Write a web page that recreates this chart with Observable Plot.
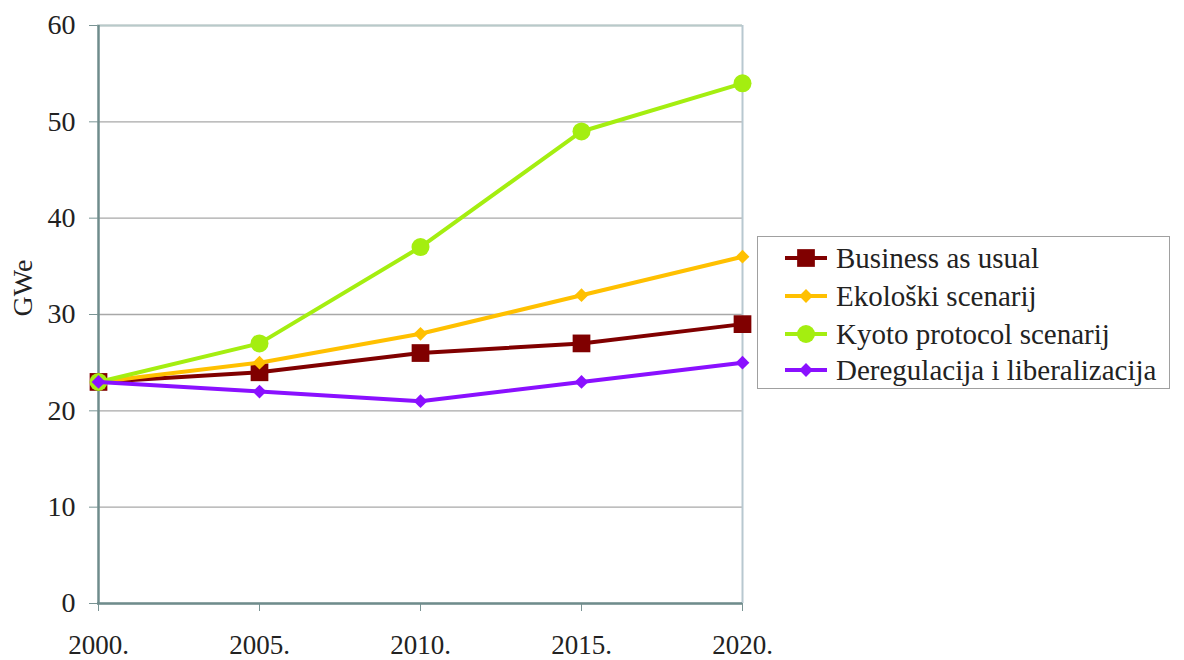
<!DOCTYPE html>
<html>
<head>
<meta charset="utf-8">
<script src="https://cdn.jsdelivr.net/npm/d3@7"></script>
<script src="https://cdn.jsdelivr.net/npm/@observablehq/plot@0.6"></script>
<style>
  html, body { margin: 0; padding: 0; background: #fff; }
  #wrap { position: relative; width: 1184px; height: 660px; }
  #legend {
    position: absolute; left: 757px; top: 236px; width: 413px; height: 153px;
    border: 1px solid #a0a0a0; box-sizing: border-box; background: #fff;
    font-family: "Liberation Serif", "Times New Roman", serif; font-size: 29px; color: #222;
  }
  .row { position: absolute; left: 26px; height: 30px; display: flex; align-items: center; white-space: nowrap; }
  .row svg { margin-right: 8px; flex: none; }
</style>
</head>
<body>
<div id="wrap"><div id="legend"></div></div>
<script>
const years = ["2000.", "2005.", "2010.", "2015.", "2020."];
const seriesNames = ["Business as usual", "Ekološki scenarij", "Kyoto protocol scenarij", "Deregulacija i liberalizacija"];
const businessAsUsual = [23, 24, 26, 27, 29];
const ekoloski = [23, 25, 28, 32, 36];
const kyoto = [23, 27, 37, 49, 54];
const deregulacija = [23, 22, 21, 23, 25];
const yTicks = [0, 10, 20, 30, 40, 50, 60];

const colors = ["#800000", "#ffc000", "#a4ee10", "#8a10ff"];
const symbols = ["square", "diamond2", "circle", "diamond2"];
const radii = [10, 6.2, 9, 6.2];
const valuesList = [businessAsUsual, ekoloski, kyoto, deregulacija];
const FONT = "'Liberation Serif', 'Times New Roman', serif";

const data = [];
seriesNames.forEach((s, i) => {
  valuesList[i].forEach((v, j) => data.push({series: s, year: years[j], value: v, idx: i}));
});

const marks = [
  Plot.gridY(yTicks, {stroke: "#a8a8a8", strokeOpacity: 1, strokeWidth: 1.3}),
  Plot.ruleY([60], {stroke: "#b8caca", strokeWidth: 2}),
  Plot.ruleX([years[4]], {stroke: "#b8c8d0", strokeWidth: 2}),
  Plot.axisY({ticks: yTicks, tickSize: 8, tickPadding: 14, stroke: "#7a9494", fontSize: 28, fontFamily: FONT, fill: "#222", label: null}),
  Plot.axisX({tickSize: 8, tickPadding: 23, stroke: "#7a9494", fontSize: 27, fontFamily: FONT, fill: "#222", label: null}),
  Plot.ruleX([years[0]], {stroke: "#6f8c8c", strokeWidth: 2.5}),
  Plot.ruleY([0], {stroke: "#6f8c8c", strokeWidth: 2.5}),
  Plot.text(["GWe"], {frameAnchor: "left", dx: -74, dy: 2, rotate: -90, fontSize: 28, fontFamily: FONT, fill: "#222"})
];
seriesNames.forEach((s, i) => {
  const d = data.filter(r => r.series === s);
  marks.push(Plot.line(d, {x: "year", y: "value", stroke: colors[i], strokeWidth: 4}));
  marks.push(Plot.dot(d, {x: "year", y: "value", fill: colors[i], stroke: "none", symbol: symbols[i], r: radii[i]}));
});

const chart = Plot.plot({
  width: 1184,
  height: 660,
  marginLeft: 97,
  marginRight: 442,
  marginTop: 25,
  marginBottom: 57,
  style: {fontFamily: FONT, fontSize: "28px", color: "#222", background: "#fff"},
  x: {type: "point", domain: years, padding: 0, label: null},
  y: {domain: [0, 60], label: null},
  marks
});
document.getElementById("wrap").prepend(chart);
chart.style.position = "absolute"; chart.style.left = "0"; chart.style.top = "0";

// legend
const legend = document.getElementById("legend");
const tops = [6, 44, 82, 118];
seriesNames.forEach((s, i) => {
  const row = document.createElement("div");
  row.className = "row";
  row.style.top = tops[i] + "px";
  const sym = d3.symbol(i === 0 ? d3.symbolSquare : i === 2 ? d3.symbolCircle : d3.symbolDiamond2, Math.PI * radii[i] * radii[i])();
  row.innerHTML = `<svg width="44" height="30"><line x1="1" x2="43" y1="15" y2="15" stroke="${colors[i]}" stroke-width="4"/><path d="${sym}" transform="translate(22,15)" fill="${colors[i]}"/></svg><span>${s}</span>`;
  legend.appendChild(row);
});
</script>
</body>
</html>
